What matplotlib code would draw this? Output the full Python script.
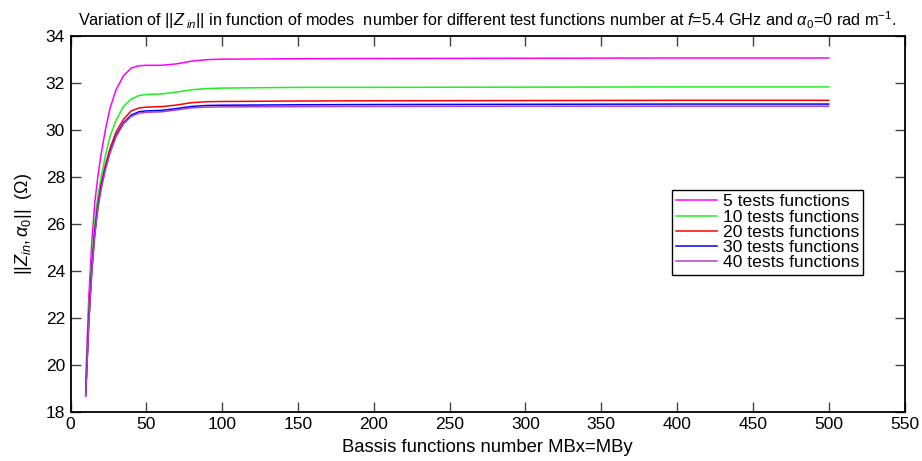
import matplotlib
matplotlib.use('Agg')
import matplotlib.pyplot as plt

plt.rcParams['font.family'] = ['Liberation Sans', 'DejaVu Sans']
plt.rcParams['mathtext.fontset'] = 'custom'
plt.rcParams['mathtext.rm'] = 'Liberation Sans'
plt.rcParams['mathtext.it'] = 'Liberation Sans:italic'
plt.rcParams['mathtext.bf'] = 'Liberation Sans:bold'

# number of basis functions (MBx = MBy)
modes = [10, 12, 14, 16, 18, 20, 23, 26, 30, 35, 40, 45, 50, 60, 70, 80, 90,
         100, 150, 200, 300, 400, 500]

# ||Zin|| (ohm) for each number of test functions
z_5 = [19.3, 22.8, 25.2, 26.9, 28.0, 28.9, 30.0, 30.9, 31.7, 32.3, 32.62, 32.72,
       32.74, 32.74, 32.8, 32.92, 32.98, 33.0, 33.02, 33.03, 33.04, 33.05, 33.05]
z_10 = [18.9, 22.2, 24.5, 26.1, 27.2, 27.9, 28.9, 29.7, 30.4, 31.0, 31.3, 31.45,
        31.5, 31.52, 31.6, 31.7, 31.75, 31.77, 31.8, 31.8, 31.81, 31.82, 31.82]
z_20 = [18.7, 21.9, 24.1, 25.7, 26.8, 27.6, 28.5, 29.2, 29.9, 30.45, 30.8, 30.92,
        30.96, 30.98, 31.05, 31.15, 31.19, 31.2, 31.22, 31.23, 31.24, 31.25, 31.25]
z_30 = [18.7, 21.8, 24.0, 25.6, 26.7, 27.5, 28.35, 29.05, 29.75, 30.3, 30.62, 30.76,
        30.8, 30.82, 30.9, 30.99, 31.03, 31.04, 31.06, 31.07, 31.08, 31.09, 31.09]
z_40 = [18.65, 21.7, 23.9, 25.5, 26.6, 27.4, 28.3, 29.0, 29.7, 30.25, 30.56, 30.7,
        30.74, 30.76, 30.84, 30.93, 30.96, 30.97, 30.98, 30.99, 31.0, 31.0, 31.0]

series = [(z_5, '#ff00ff', '5 tests functions'),
          (z_10, '#22ee22', '10 tests functions'),
          (z_20, '#ff0000', '20 tests functions'),
          (z_30, '#0000ff', '30 tests functions'),
          (z_40, '#b040c8', '40 tests functions')]

fig = plt.figure(figsize=(9.22, 4.61), dpi=100)
ax = fig.add_axes([0.0765, 0.107, 0.9046, 0.8156])

for z, c, lab in series:
    ax.plot(modes, z, color=c, lw=1.1, label=lab)

ax.set_xlim(0, 550)
ax.set_ylim(18, 34)
ax.set_xticks(range(0, 551, 50))
ax.set_yticks(range(18, 35, 2))
ax.tick_params(direction='in', length=7, width=1.0, color='#444444',
               top=True, right=True, labelsize=12.5, pad=4)
for s in ax.spines.values():
    s.set_linewidth(1.3)

ax.set_xlabel('Bassis functions number MBx=MBy', fontsize=13.3, labelpad=5)
ax.set_ylabel(r'$||Z_{in},\alpha_0||$  ($\Omega$)', fontsize=13, labelpad=8)
ax.set_title(r'Variation of $||Z_{\ in}||$ in function of modes  number for different '
             r'test functions number at $f$=5.4 GHz and $\alpha_0$=0 rad m$^{-1}$.',
             fontsize=11.7, pad=7)

leg = ax.legend(loc='upper left', bbox_to_anchor=(0.721, 0.59), fontsize=12.6,
                fancybox=False, framealpha=1, edgecolor='black',
                handlelength=2.35, handletextpad=0.3, labelspacing=0.0,
                borderpad=0.25, borderaxespad=0)
leg.get_frame().set_linewidth(1.0)

plt.savefig('out.png', dpi=100)
